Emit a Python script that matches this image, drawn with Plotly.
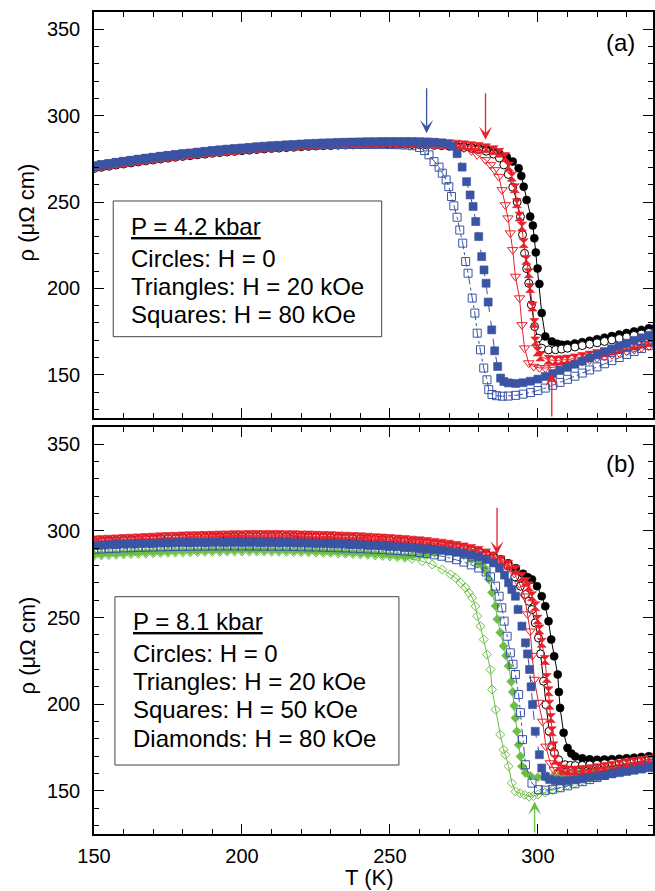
import plotly.graph_objects as go

# ---------------------------------------------------------------------------
# Resistivity rho(T) of the sample under pressure, for several magnetic fields.
# Each field has two temperature sweeps (filled / open symbols).
# The low-temperature part of every sweep is sampled on the same grid T_LOW;
# the *_hi lists hold (T, rho) pairs from 257.5 K up through the transition.
# ---------------------------------------------------------------------------

T_LOW = [150, 152.5, 155, 157.5, 160, 162.5, 165, 167.5, 170, 172.5, 175, 177.5,
         180, 182.5, 185, 187.5, 190, 192.5, 195, 197.5, 200, 202.5, 205, 207.5,
         210, 212.5, 215, 217.5, 220, 222.5, 225, 227.5, 230, 232.5, 235, 237.5,
         240, 242.5, 245, 247.5, 250, 252.5, 255]

# ----------------------------- panel (a): P = 4.2 kbar ----------------------
a_black_f_low = [269.8, 270.5, 271.1, 271.8, 272.4, 273.0, 273.6, 274.2, 274.7, 275.3, 275.8,
                 276.3, 276.8, 277.2, 277.7, 278.1, 278.6, 279.0, 279.4, 279.7, 280.1, 280.4,
                 280.8, 281.1, 281.4, 281.6, 281.9, 282.1, 282.4, 282.6, 282.8, 283.0, 283.1,
                 283.3, 283.4, 283.5, 283.6, 283.7, 283.7, 283.8, 283.8, 283.8, 283.8]
a_black_f_hi = [(257.5, 283.7), (260, 283.6), (262.5, 283.5), (265, 283.3), (267.5, 283.1),
                (270, 282.9), (272.5, 282.6), (275, 282.3), (277.5, 281.9), (280, 281.4),
                (282.5, 280.7), (285, 279.7), (287, 278.0), (289.5, 276.0), (291.5, 273.4),
                (293.5, 269.6), (294.4, 265.1), (295.2, 258.9), (296.2, 251.2), (297.4, 241.6),
                (298.3, 236.4), (298.8, 229.0), (299.3, 220.8), (299.9, 211.5), (300.5, 202.6),
                (301.3, 185.7), (302.5, 172.2), (304.7, 169.3), (306.5, 168.0), (308.1, 167.4),
                (310, 167.5), (312.5, 168.1), (315, 168.9), (317.5, 169.7), (320, 170.6),
                (322.5, 171.5), (325, 172.4), (327.5, 173.3), (330, 174.2), (332.5, 175.1),
                (335, 176.0), (337.5, 176.9), (340, 177.8)]

a_black_o_low = [269.4, 270.1, 270.7, 271.4, 272.0, 272.6, 273.2, 273.8, 274.3, 274.9, 275.4,
                 275.9, 276.4, 276.8, 277.3, 277.7, 278.2, 278.6, 279.0, 279.3, 279.7, 280.0,
                 280.4, 280.7, 281.0, 281.2, 281.5, 281.7, 282.0, 282.2, 282.4, 282.6, 282.7,
                 282.9, 283.0, 283.1, 283.2, 283.3, 283.3, 283.4, 283.4, 283.4, 283.4]
a_black_o_hi = [(257.5, 283.3), (260, 283.2), (262.5, 283.0), (265, 282.8), (267.5, 282.6),
                (270, 282.3), (272.5, 282.0), (275, 281.6), (277.5, 281.1), (280, 280.4),
                (282.5, 279.4), (285, 277.8), (287, 275.5), (288.5, 271.5), (290, 266.0),
                (291.5, 258.5), (293, 250.0), (294.1, 241.5), (294.8, 231.1), (295.5, 220.3),
                (296.2, 211.5), (296.9, 203.0), (297.8, 190.5), (298.9, 177.9), (300.0, 171.2),
                (301.3, 165.4), (303.6, 164.4), (306, 164.5), (308, 164.9), (310, 165.4),
                (312.5, 166.1), (315, 166.9), (317.5, 167.7), (320, 168.5), (322.5, 169.3),
                (325, 170.2), (327.5, 171.0), (330, 171.9), (332.5, 172.8), (335, 173.6),
                (337.5, 174.5), (340, 175.4)]

a_red_f_low = [270.4, 271.1, 271.7, 272.4, 273.0, 273.6, 274.2, 274.8, 275.3, 275.9, 276.4,
               276.9, 277.4, 277.8, 278.3, 278.7, 279.2, 279.6, 280.0, 280.3, 280.7, 281.0,
               281.4, 281.7, 282.0, 282.2, 282.5, 282.7, 283.0, 283.2, 283.4, 283.6, 283.7,
               283.9, 284.0, 284.1, 284.2, 284.3, 284.3, 284.4, 284.4, 284.4, 284.4]
a_red_f_hi = [(257.5, 284.4), (260, 284.3), (262.5, 284.2), (265, 284.0), (267.5, 283.8),
              (270, 283.5), (272.5, 283.2), (275, 282.8), (277.5, 282.3), (280, 281.8),
              (282.5, 281.1), (285, 280.0), (287, 278.5), (289, 276.0), (290.2, 270.5),
              (291.2, 264.7), (292.2, 258.0), (292.9, 249.3), (293.8, 241.6), (294.6, 235.8),
              (295.2, 226.2), (296.1, 216.5), (296.9, 208.8), (297.4, 200.2), (298.2, 189.5),
              (298.8, 180.0), (299.1, 169.3), (299.9, 163.5), (300.8, 160.6), (303.6, 158.7),
              (306, 158.3), (308, 158.4), (310, 158.8), (312.5, 159.5), (315, 160.3),
              (317.5, 161.1), (320, 162.0), (322.5, 163.0), (325, 164.0), (327.5, 165.0),
              (330, 166.0), (332.5, 167.0), (335, 168.0), (337.5, 169.0), (340, 170.0)]

a_red_o_low = [270.0, 270.7, 271.3, 272.0, 272.6, 273.2, 273.8, 274.4, 274.9, 275.5, 276.0,
               276.5, 277.0, 277.4, 277.9, 278.3, 278.8, 279.2, 279.6, 279.9, 280.3, 280.6,
               281.0, 281.3, 281.6, 281.8, 282.1, 282.3, 282.6, 282.8, 283.0, 283.2, 283.3,
               283.5, 283.6, 283.7, 283.8, 283.9, 283.9, 284.0, 284.0, 284.0, 284.0]
a_red_o_hi = [(257.5, 283.9), (260, 283.8), (262.5, 283.6), (265, 283.3), (267.5, 283.0),
              (270, 282.6), (272.5, 282.0), (275, 281.2), (277.5, 279.6), (279.5, 277.3),
              (282.3, 274.4), (284.0, 271.5), (285.4, 268.6), (286.8, 264.7), (287.9, 257.0),
              (289.0, 248.3), (289.9, 240.7), (290.7, 232.0), (291.5, 222.3), (292.4, 206.9),
              (293.8, 194.4), (294.6, 178.9), (295.5, 165.4), (296.9, 156.8), (298.6, 154.8),
              (300.5, 154.0), (302.5, 153.9), (305, 154.3), (307.5, 155.0), (310, 155.8),
              (312.5, 156.7), (315, 157.6), (317.5, 158.6), (320, 159.6), (322.5, 160.6),
              (325, 161.6), (327.5, 162.6), (330, 163.6), (332.5, 164.6), (335, 165.6),
              (337.5, 166.6), (340, 167.6)]

a_blue_f_low = [271.0, 271.7, 272.3, 273.0, 273.6, 274.2, 274.8, 275.4, 275.9, 276.5, 277.0,
                277.5, 278.0, 278.4, 278.9, 279.3, 279.8, 280.2, 280.6, 280.9, 281.3, 281.6,
                282.0, 282.3, 282.6, 282.8, 283.1, 283.3, 283.6, 283.8, 284.0, 284.2, 284.3,
                284.5, 284.6, 284.7, 284.8, 284.9, 284.9, 285.0, 285.0, 285.0, 285.0]
a_blue_f_hi = [(257.5, 285.0), (260, 284.9), (262.5, 284.8), (265, 284.6), (267.5, 284.2),
               (269.5, 283.6), (271.0, 282.3), (272.7, 278.0), (274.4, 270.2), (275.9, 261.8),
               (277.1, 254.1), (278.1, 247.4), (279.0, 238.7), (280.0, 230.0), (281.0, 218.4),
               (281.8, 210.7), (282.5, 203.0), (283.2, 192.1), (284.4, 176.0), (285.4, 163.9),
               (286.4, 154.8), (287.4, 148.1), (288.5, 146.1), (290, 145.3), (292.5, 145.0),
               (295, 145.4), (297.5, 146.3), (300, 147.5), (302.5, 149.0), (305, 150.7),
               (307.5, 152.5), (310, 154.3), (312.5, 156.1), (315, 157.9), (317.5, 159.7),
               (320, 161.5), (322.5, 163.3), (325, 165.0), (327.5, 166.7), (330, 168.3),
               (332.5, 169.9), (335, 171.4), (337.5, 172.9), (340, 174.3)]

a_blue_o_low = [270.7, 271.4, 272.0, 272.7, 273.3, 273.9, 274.5, 275.1, 275.6, 276.2, 276.7,
                277.2, 277.7, 278.1, 278.6, 279.0, 279.5, 279.9, 280.3, 280.6, 280.8, 281.1,
                281.4, 281.7, 281.9, 282.1, 282.3, 282.5, 282.7, 282.8, 283.0, 283.1, 283.2,
                283.3, 283.3, 283.4, 283.4, 283.4, 283.4, 283.4, 283.3, 283.2, 283.0]
a_blue_o_hi = [(257.5, 282.6), (260, 281.6), (261.7, 279.8), (263.2, 277.3), (264.9, 273.4),
               (266.6, 270.2), (267.7, 266.7), (269.0, 262.8), (269.9, 258.9), (270.8, 253.2),
               (271.6, 247.8), (272.7, 241.2), (273.6, 233.8), (274.6, 226.2), (275.6, 215.6),
               (276.4, 208.8), (277.8, 194.4), (278.7, 185.7), (279.5, 174.1), (280.6, 164.5),
               (281.7, 153.9), (282.8, 147.1), (283.4, 141.4), (284.5, 138.6), (286, 137.9),
               (288, 137.6), (290, 137.7), (292.5, 138.1), (295, 138.8), (297.5, 139.7),
               (300, 140.9), (302.5, 142.3), (305, 143.9), (307.5, 145.6), (310, 147.4),
               (312.5, 149.2), (315, 151.0), (317.5, 152.8), (320, 154.6), (322.5, 156.4),
               (325, 158.2), (327.5, 160.0), (330, 161.8), (332.5, 163.5), (335, 165.2),
               (337.5, 166.9), (340, 168.5)]

# ----------------------------- panel (b): P = 8.1 kbar ----------------------
b_black_f_low = [294.2, 294.4, 294.6, 294.8, 295.0, 295.2, 295.4, 295.6, 295.8, 296.0, 296.2,
                 296.3, 296.5, 296.6, 296.7, 296.8, 296.9, 297.0, 297.1, 297.2, 297.2, 297.3,
                 297.3, 297.3, 297.3, 297.3, 297.2, 297.2, 297.1, 297.0, 296.9, 296.8, 296.7,
                 296.5, 296.4, 296.2, 296.0, 295.8, 295.5, 295.3, 295.0, 294.7, 294.4]
b_black_f_hi = [(257.5, 294.1), (260, 293.7), (262.5, 293.3), (265, 292.8), (267.5, 292.3),
                (270, 291.7), (272.5, 291.0), (275, 290.2), (277.5, 289.3), (280, 288.3),
                (282.5, 287.0), (285, 285.5), (287.5, 283.6), (290, 281.3), (292.5, 278.5),
                (295, 275.3), (296.6, 273.3), (298.0, 272.0), (299.7, 268.1), (301.3, 262.3),
                (302.5, 256.5), (303.6, 247.9), (304.5, 237.3), (305.5, 227.6), (306.7, 217.1),
                (307.1, 207.0), (307.5, 197.8), (308.7, 183.4), (310.0, 174.7), (311.3, 171.5),
                (312.6, 169.8), (315, 168.7), (317.5, 168.1), (320, 167.9), (322.5, 168.0),
                (325, 168.2), (327.5, 168.5), (330, 168.8), (332.5, 169.1), (335, 169.5),
                (337.5, 169.9), (340, 170.3)]

b_black_o_low = [293.9, 294.1, 294.3, 294.5, 294.7, 294.9, 295.1, 295.3, 295.5, 295.7, 295.9,
                 296.0, 296.2, 296.3, 296.4, 296.5, 296.6, 296.7, 296.8, 296.9, 296.9, 297.0,
                 297.0, 297.0, 297.0, 297.0, 296.9, 296.9, 296.8, 296.7, 296.6, 296.5, 296.4,
                 296.2, 296.1, 295.9, 295.7, 295.5, 295.2, 295.0, 294.7, 294.4, 294.1]
b_black_o_hi = [(257.5, 293.8), (260, 293.4), (262.5, 293.0), (265, 292.5), (267.5, 292.0),
                (270, 291.4), (272.5, 290.7), (275, 289.9), (277.5, 288.9), (280, 287.8),
                (282.5, 286.4), (285, 284.7), (287.5, 282.6), (290, 279.8), (292.2, 273.5),
                (294.1, 268.1), (295.8, 263.3), (296.9, 259.4), (298.0, 254.6), (299.1, 246.9),
                (300.2, 238.2), (300.9, 229.0), (301.9, 213.2), (302.7, 199.7), (303.8, 184.3),
                (304.7, 175.6), (305.6, 171.8), (307.0, 167.9), (309.2, 165.0), (311, 164.6),
                (312.6, 164.5), (315, 164.6), (317.5, 164.9), (320, 165.2), (322.5, 165.6),
                (325, 166.0), (327.5, 166.4), (330, 166.8), (332.5, 167.2), (335, 167.6),
                (337.5, 168.0), (340, 168.4)]

b_red_f_low = [294.5, 294.7, 294.9, 295.1, 295.3, 295.5, 295.7, 295.9, 296.1, 296.3, 296.5,
               296.6, 296.8, 296.9, 297.0, 297.1, 297.2, 297.3, 297.4, 297.5, 297.5, 297.6,
               297.6, 297.6, 297.6, 297.6, 297.5, 297.5, 297.4, 297.3, 297.2, 297.1, 297.0,
               296.8, 296.7, 296.5, 296.3, 296.1, 295.8, 295.6, 295.3, 295.0, 294.7]
b_red_f_hi = [(257.5, 294.4), (260, 294.0), (262.5, 293.6), (265, 293.1), (267.5, 292.6),
              (270, 292.0), (272.5, 291.3), (275, 290.5), (277.5, 289.6), (280, 288.5),
              (282.5, 287.0), (285, 285.3), (287.5, 283.0), (290, 280.5), (292.5, 277.5),
              (294.6, 273.5), (296.0, 270.5), (296.9, 268.1), (298.0, 262.3), (299.1, 256.5),
              (299.9, 248.8), (300.5, 243.1), (301.3, 235.4), (302.4, 225.5), (303.0, 215.1),
              (303.6, 207.4), (303.9, 199.7), (304.4, 192.0), (304.7, 184.3), (305.3, 175.6),
              (305.9, 167.9), (307, 164.0), (308.5, 162.3), (310, 161.7), (312.5, 161.6),
              (315, 161.9), (317.5, 162.4), (320, 163.0), (322.5, 163.7), (325, 164.4),
              (327.5, 165.1), (330, 165.8), (332.5, 166.5), (335, 167.2), (337.5, 167.9),
              (340, 168.6)]

b_red_o_low = [294.0, 294.2, 294.4, 294.6, 294.8, 295.0, 295.2, 295.4, 295.6, 295.8, 296.0,
               296.1, 296.3, 296.4, 296.5, 296.6, 296.7, 296.8, 296.9, 297.0, 297.0, 297.1,
               297.1, 297.1, 297.1, 297.1, 297.0, 297.0, 296.9, 296.8, 296.7, 296.6, 296.5,
               296.3, 296.2, 296.0, 295.8, 295.6, 295.3, 295.1, 294.8, 294.5, 294.2]
b_red_o_hi = [(257.5, 293.9), (260, 293.5), (262.5, 293.1), (265, 292.6), (267.5, 292.1),
              (270, 291.5), (272.5, 290.8), (275, 290.0), (277.5, 289.0), (280, 287.8),
              (282.5, 286.2), (285, 284.2), (287.5, 281.8), (290, 279.0), (292, 275.5),
              (293.8, 269.5), (295.5, 262.3), (296.5, 252.0), (297.4, 242.1), (298.1, 228.0),
              (298.8, 214.2), (300.2, 200.9), (301.6, 190.0), (302.7, 175.6), (304.2, 166.0),
              (305.5, 162.0), (307, 160.2), (309, 159.6), (311.5, 159.5), (314, 159.8),
              (316.5, 160.3), (319, 160.9), (321.5, 161.5), (324, 162.2), (326.5, 162.9),
              (329, 163.6), (331.5, 164.3), (334, 165.0), (336.5, 165.7), (339, 166.4)]

b_blue_f_low = [291.6, 291.8, 292.0, 292.2, 292.4, 292.5, 292.7, 292.8, 292.9, 293.0, 293.1,
                293.2, 293.3, 293.3, 293.4, 293.4, 293.5, 293.5, 293.5, 293.5, 293.5, 293.5,
                293.5, 293.4, 293.4, 293.3, 293.3, 293.2, 293.1, 293.0, 292.9, 292.8, 292.7,
                292.5, 292.4, 292.2, 292.0, 291.8, 291.6, 291.4, 291.1, 290.9, 290.6]
b_blue_f_hi = [(257.5, 290.3), (260, 290.0), (262.5, 289.6), (265, 289.2), (267.5, 288.8),
               (270, 288.3), (272.5, 287.7), (275, 287.0), (277.5, 286.1), (280, 285.0),
               (282.5, 283.5), (285, 281.5), (287.0, 278.5), (288.7, 274.5), (290.1, 270.1),
               (291.2, 266.2), (292.4, 262.3), (293.3, 254.6), (294.6, 245.0), (295.8, 235.4),
               (296.5, 229.0), (297.2, 220.0), (297.7, 210.0), (298.2, 199.7), (299.1, 184.3),
               (300.5, 170.8), (301.3, 163.1), (302.5, 158.3), (304, 156.5), (306, 155.8),
               (308, 155.6), (310, 155.8), (312.5, 156.3), (315, 156.9), (317.5, 157.6),
               (320, 158.3), (322.5, 159.0), (325, 159.7), (327.5, 160.4), (330, 161.1),
               (332.5, 161.8), (335, 162.5), (337.5, 163.2), (340, 163.9)]

b_blue_o_low = [289.4, 289.6, 289.8, 290.0, 290.2, 290.3, 290.5, 290.6, 290.7, 290.8, 290.9,
                291.0, 291.1, 291.1, 291.2, 291.2, 291.3, 291.3, 291.3, 291.3, 291.3, 291.3,
                291.3, 291.2, 291.2, 291.1, 291.1, 291.0, 290.9, 290.8, 290.7, 290.6, 290.5,
                290.3, 290.2, 290.0, 289.8, 289.6, 289.4, 289.2, 288.9, 288.7, 288.4]
b_blue_o_hi = [(257.5, 288.0), (260, 287.5), (262.5, 286.9), (265, 286.2), (267.5, 285.4),
               (270, 284.5), (272.5, 283.4), (275, 282.0), (277.5, 280.4), (280, 278.6),
               (282.5, 276.3), (284.0, 273.5), (285.7, 268.1), (286.9, 262.3), (287.8, 255.6),
               (288.6, 247.9), (289.6, 239.2), (290.7, 229.6), (291.6, 223.0), (292.4, 217.1),
               (293.5, 205.5), (294.1, 195.1), (294.8, 179.5), (295.8, 165.0), (298.0, 154.4),
               (300.2, 150.6), (302.5, 150.3), (305, 150.8), (307.5, 151.7), (310, 152.8),
               (312.5, 154.0), (315, 155.2), (317.5, 156.4), (320, 157.6), (322.5, 158.8),
               (325, 160.0), (327.5, 161.2), (330, 162.3), (332.5, 163.4), (335, 164.5),
               (337.5, 165.6), (340, 166.7)]

b_green_f_low = [286.4, 286.6, 286.8, 287.0, 287.2, 287.4, 287.6, 287.7, 287.9, 288.0, 288.2,
                 288.3, 288.4, 288.5, 288.6, 288.7, 288.8, 288.8, 288.9, 288.9, 288.9, 288.9,
                 288.9, 288.9, 288.8, 288.8, 288.7, 288.6, 288.5, 288.4, 288.3, 288.1, 288.0,
                 287.8, 287.6, 287.4, 287.2, 287.0, 286.7, 286.4, 286.1, 285.7, 285.3]
b_green_f_hi = [(257.5, 285.5), (260, 285.8), (262.5, 286.3), (265, 287.3), (267.5, 289.0),
                (269.5, 291.0), (270.5, 292.2), (271.5, 291.0), (273, 288.5), (275, 286.0),
                (277.5, 283.5), (280, 281.5), (281.5, 279.5), (282.5, 276.5), (283.4, 272.1),
                (284.5, 264.4), (285.7, 256.7), (286.3, 249.0), (287.3, 241.3), (288.4, 233.5),
                (289.3, 228.0), (290.1, 222.0), (291.0, 213.0), (291.5, 207.0), (292.0, 199.0),
                (292.4, 192.0), (292.9, 184.3), (293.5, 176.5), (294.1, 169.8), (294.6, 164.1),
                (295.8, 160.2), (297.5, 158.5), (300, 157.8), (302.5, 157.8), (305, 158.2),
                (307.5, 158.8), (310, 159.5), (312.5, 160.2), (315, 160.9), (317.5, 161.6),
                (320, 162.3), (322.5, 163.0), (325, 163.7), (327.5, 164.4), (330, 165.1),
                (332.5, 165.8), (335, 166.5), (337.5, 167.2), (340, 167.9)]

b_green_o_low = [285.6, 285.8, 286.0, 286.2, 286.4, 286.6, 286.8, 286.9, 287.1, 287.2, 287.4,
                 287.5, 287.6, 287.7, 287.8, 287.9, 288.0, 288.0, 288.1, 288.1, 288.1, 288.1,
                 288.1, 288.1, 288.0, 288.0, 287.9, 287.8, 287.7, 287.6, 287.5, 287.3, 287.2,
                 287.0, 286.8, 286.6, 286.4, 286.2, 285.9, 285.6, 285.3, 284.9, 284.5]
b_green_o_hi = [(257.5, 283.9), (260.9, 282.5), (264.3, 280.6), (267.7, 277.7), (270.5, 274.9),
                (272.2, 272.9), (273.9, 270.0), (275.6, 267.2), (276.7, 264.3), (277.8, 261.4),
                (278.9, 256.5), (279.5, 250.8), (280.6, 245.0), (281.7, 237.3), (282.8, 228.6),
                (284.0, 219.9), (284.5, 208.4), (285.7, 196.8), (287.3, 182.4), (288.4, 173.7),
                (289.0, 170.8), (290.1, 164.1), (291.2, 154.4), (292.4, 149.6), (294.0, 148.5),
                (295.5, 147.6), (297.0, 146.6), (298.5, 147.0), (300.0, 147.8), (302.5, 149.0),
                (305, 150.4), (307.5, 151.8), (310, 153.2), (312.5, 154.5), (315, 155.8),
                (317.5, 157.1), (320, 158.3), (322.5, 159.5), (325, 160.6), (327.5, 161.7),
                (330, 162.7), (332.5, 163.7), (335, 164.6), (337.5, 165.5), (340, 166.4)]

# Transition markers: (T, rho at arrow tip, rho at arrow tail, colour key)
RHO_MIN, RHO_MAX = 125, 360
T_MIN, T_MAX = 150, 338.9
ARROWS_A = [(262.4, 289.8, 316.8, "blue"), (282.3, 286.0, 313.9, "red"),
            (304.7, 151.0, RHO_MIN, "red")]
ARROWS_B = [(286.2, 286.4, 314.3, "red"), (298.9, 143.8, RHO_MIN, "green")]

LEGEND_A = ["<u>P = 4.2 kbar</u>", "Circles: H = 0", "Triangles: H = 20 kOe",
            "Squares: H = 80 kOe"]
LEGEND_B = ["<u>P = 8.1 kbar</u>", "Circles: H = 0", "Triangles: H = 20 kOe",
            "Squares: H = 50 kOe", "Diamonds: H = 80 kOe"]

COLORS = {"black": "#000000", "red": "#E8202A", "blue": "#3A54A4", "green": "#6CBE45"}
FONT = "Liberation Sans, Arial, Helvetica, sans-serif"

fig = go.Figure()


def add_sweep(low, hi, color, symbol, size, filled, panel, dash="solid"):
    t = T_LOW + [p[0] for p in hi]
    r = low + [p[1] for p in hi]
    c = COLORS[color]
    if filled:
        marker = dict(symbol=symbol, size=size, color=c, line=dict(color=c, width=0.6))
    elif symbol == "circle":
        marker = dict(symbol="circle", size=size, color="white", line=dict(color=c, width=1))
    else:
        marker = dict(symbol=symbol + "-open", size=size, color=c, line=dict(color=c, width=1))
    xa, ya = ("x", "y") if panel == "a" else ("x2", "y2")
    fig.add_trace(go.Scatter(x=t, y=r, mode="lines+markers", marker=marker,
                             line=dict(color=c, width=1, dash=dash),
                             xaxis=xa, yaxis=ya, showlegend=False, cliponaxis=True))


# panel (a)
add_sweep(a_black_f_low, a_black_f_hi, "black", "circle", 8, True, "a")
add_sweep(a_black_o_low, a_black_o_hi, "black", "circle", 8, False, "a")
add_sweep(a_red_o_low, a_red_o_hi, "red", "triangle-down", 9, False, "a")
add_sweep(a_red_f_low, a_red_f_hi, "red", "hourglass", 9, True, "a")
add_sweep(a_blue_o_low, a_blue_o_hi, "blue", "square", 8, False, "a", dash="dashdot")
add_sweep(a_blue_f_low, a_blue_f_hi, "blue", "square", 8, True, "a", dash="dash")

# panel (b)
add_sweep(b_green_o_low, b_green_o_hi, "green", "diamond", 7, False, "b")
add_sweep(b_green_f_low, b_green_f_hi, "green", "diamond", 7, True, "b")
add_sweep(b_black_f_low, b_black_f_hi, "black", "circle", 8, True, "b")
add_sweep(b_black_o_low, b_black_o_hi, "black", "circle", 8, False, "b")
add_sweep(b_red_o_low, b_red_o_hi, "red", "triangle-down", 9, False, "b")
add_sweep(b_red_f_low, b_red_f_hi, "red", "hourglass", 9, True, "b")
add_sweep(b_blue_o_low, b_blue_o_hi, "blue", "square", 8, False, "b", dash="dashdot")
add_sweep(b_blue_f_low, b_blue_f_hi, "blue", "square", 8, True, "b", dash="dash")

annotations = []
shapes = []

# arrows marking the transition temperatures
for arrows, xr, yr in ((ARROWS_A, "x", "y"), (ARROWS_B, "x2", "y2")):
    for t, tip, tail, col in arrows:
        annotations.append(dict(x=t, y=tip, ax=t, ay=tail, xref=xr, yref=yr,
                                axref=xr, ayref=yr, text="", showarrow=True,
                                arrowhead=3, arrowsize=1.7, arrowwidth=1.3,
                                arrowcolor=COLORS[col], standoff=0))

# boxed legends
for lines, xr, yr, box, x_text, y_rows in (
        (LEGEND_A, "x domain", "y domain", (0.0344, 0.2002, 0.5146, 0.5345), 0.0629,
         [0.4712, 0.3933, 0.3234, 0.2537]),
        (LEGEND_B, "x2 domain", "y2 domain", (0.0374, 0.1695, 0.5455, 0.5831), 0.0654,
         [0.5216, 0.4440, 0.3742, 0.3047, 0.2351])):
    shapes.append(dict(type="rect", xref=xr, yref=yr, x0=box[0], y0=box[1], x1=box[2],
                       y1=box[3], line=dict(color="#444444", width=1), fillcolor="white",
                       layer="above"))
    for txt, yy in zip(lines, y_rows):
        annotations.append(dict(x=x_text, y=yy, xref=xr, yref=yr, text=txt, showarrow=False,
                                xanchor="left", yanchor="middle",
                                font=dict(family=FONT, size=24, color="black")))

# panel labels
annotations.append(dict(x=0.941, y=0.926, xref="x domain", yref="y domain", text="(a)",
                        showarrow=False, xanchor="center", yanchor="middle",
                        font=dict(family=FONT, size=24, color="black")))
annotations.append(dict(x=0.941, y=0.9115, xref="x2 domain", yref="y2 domain", text="(b)",
                        showarrow=False, xanchor="center", yanchor="middle",
                        font=dict(family=FONT, size=24, color="black")))

# axis titles
annotations.append(dict(x=0.492, y=-0.0535, xref="paper", yref="paper", text="T (K)",
                        showarrow=False, xanchor="center", yanchor="middle",
                        font=dict(family=FONT, size=22, color="black")))
for yy in (0.7567, 0.2299):
    annotations.append(dict(x=-0.119, y=yy, xref="paper", yref="paper", text="ρ (μΩ cm)",
                            textangle=-90, showarrow=False, xanchor="center",
                            yanchor="middle",
                            font=dict(family=FONT, size=22, color="black")))

axis_style = dict(showline=True, linecolor="black", linewidth=1.5, mirror="ticks",
                  ticks="inside", ticklen=10, tickwidth=1.3, tickcolor="black",
                  showgrid=False, zeroline=False,
                  tickfont=dict(family=FONT, size=20, color="black"),
                  minor=dict(ticks="inside", ticklen=5, tickwidth=1, tickcolor="black",
                             dtick=10, showgrid=False))

fig.update_layout(
    width=655, height=891,
    margin=dict(l=94, r=0, t=12, b=57),
    plot_bgcolor="white", paper_bgcolor="white",
    showlegend=False,
    font=dict(family=FONT, size=20, color="black"),
    xaxis=dict(domain=[0, 1], anchor="y", range=[T_MIN, T_MAX], tick0=150, dtick=50,
               showticklabels=False, **axis_style),
    xaxis2=dict(domain=[0, 1], anchor="y2", range=[T_MIN, T_MAX], tick0=150, dtick=50,
                showticklabels=True, ticklabelstandoff=3, **axis_style),
    yaxis=dict(domain=[0.5061, 1], anchor="x", range=[RHO_MIN, RHO_MAX], tick0=150,
               dtick=50, ticklabelstandoff=8, **axis_style),
    yaxis2=dict(domain=[0, 0.4951], anchor="x2", range=[RHO_MIN, RHO_MAX], tick0=150,
                dtick=50, ticklabelstandoff=8, **axis_style),
    annotations=annotations,
    shapes=shapes,
)

fig.write_html("out.html")
